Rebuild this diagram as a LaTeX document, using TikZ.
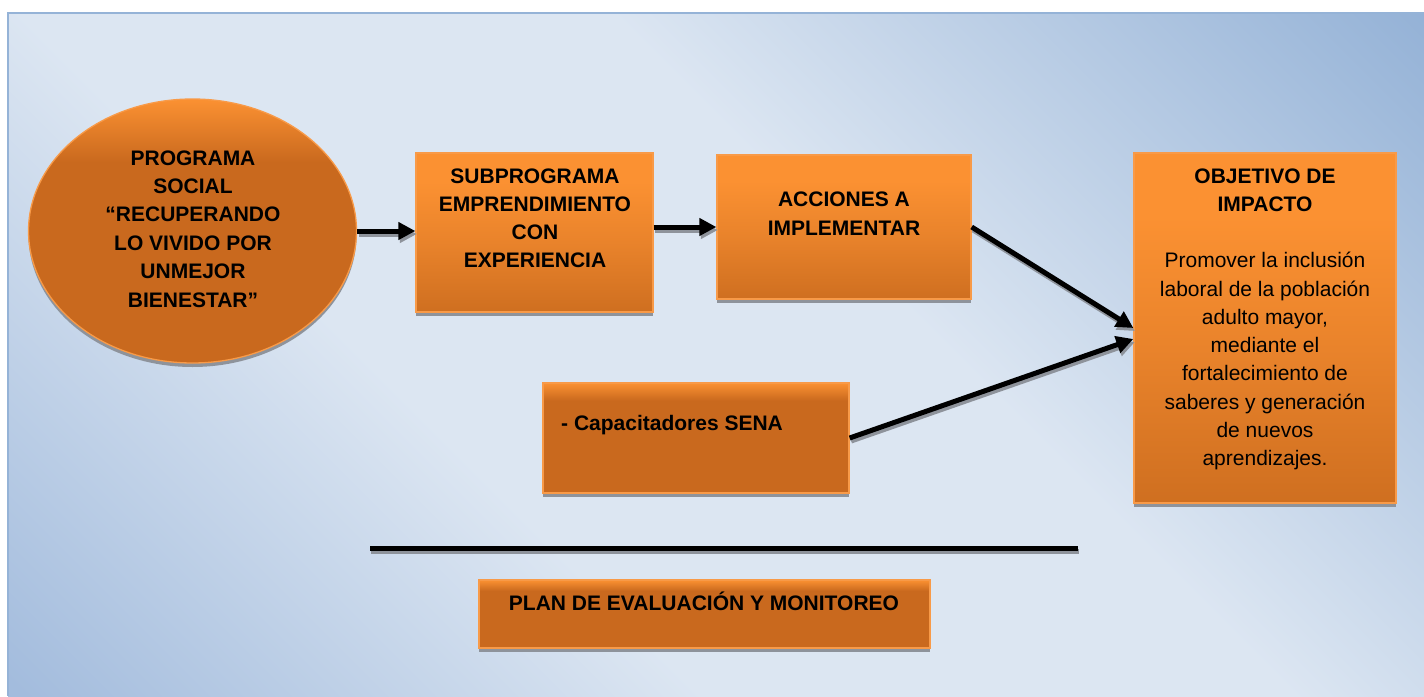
\documentclass[tikz,border=0pt]{standalone}
\usepackage{fontspec}
\setmainfont{Liberation Sans}
\usetikzlibrary{shapes.geometric,arrows.meta,shadows,calc}
\definecolor{bgdk}{HTML}{93B1D6}
\definecolor{bgdk2}{HTML}{A3BCDD}
\definecolor{bglt}{HTML}{DCE6F2}
\definecolor{obr}{HTML}{FB9132}
\definecolor{omid}{HTML}{E9832B}
\definecolor{odk}{HTML}{C9691E}
\definecolor{odk2}{HTML}{CF6F20}
\definecolor{oedge}{HTML}{F89A48}
\definecolor{shgrey}{HTML}{8E939B}
\definecolor{framec}{HTML}{95B3D7}
\pgfdeclarehorizontalshading{bgshade}{100bp}{color(0bp)=(bgdk2); color(15bp)=(bgdk2); color(38bp)=(bglt); color(58bp)=(bglt); color(86bp)=(bgdk); color(100bp)=(bgdk)}
\pgfdeclareverticalshading{otall}{100bp}{color(0bp)=(odk2); color(25bp)=(odk2); color(47bp)=(omid); color(66bp)=(obr); color(75bp)=(obr); color(100bp)=(obr)}
\pgfdeclareverticalshading{oflat}{100bp}{color(0bp)=(odk); color(25bp)=(odk); color(67bp)=(odk); color(75bp)=(obr); color(100bp)=(obr)}
\pgfdeclareverticalshading{oell}{100bp}{color(0bp)=(odk); color(25bp)=(odk); color(63bp)=(odk); color(75bp)=(obr); color(100bp)=(obr)}
\tikzset{
  obox/.style={rectangle, draw=oedge, line width=1.3pt, inner sep=0pt,
    drop shadow={shadow xshift=0pt, shadow yshift=-4pt, fill=shgrey, opacity=1}},
  txt/.style={inner sep=0pt, text=black},
  arr/.style={line width=5pt, -{Triangle[length=17pt,width=17pt]}},
  arrsh/.style={arr, draw=shgrey, transform canvas={xshift=1.5pt,yshift=-3pt}},
  rule/.style={line width=5pt},
  rulesh/.style={line width=5pt, draw=shgrey, transform canvas={xshift=1pt,yshift=-3.5pt}}
}
\begin{document}
\begin{tikzpicture}[x=1pt,y=-1pt]
\fill[white] (0,0) rectangle (1424,696);
\useasboundingbox (0,0) rectangle (1424,696);
\path[shading=bgshade, shading angle=45] (8,13) rectangle (1424,696);
\draw[framec, line width=2pt] (8,696) -- (8,13) -- (1424,13);

% shapes
\node[obox, ellipse, shading=oell, minimum width=328pt, minimum height=264pt] (ell) at (192.5,231) {};
\node[obox, shading=otall, minimum width=237pt, minimum height=159pt] (sub) at (534.5,232.5) {};
\node[obox, shading=otall, minimum width=254pt, minimum height=144pt] (acc) at (844,227) {};
\node[obox, shading=otall, minimum width=262pt, minimum height=350pt] (obj) at (1265,328) {};
\node[obox, shading=oflat, minimum width=306pt, minimum height=110pt] (sena) at (696,438) {};
\node[obox, shading=oflat, minimum width=451pt, minimum height=68pt] (plan) at (704.5,614) {};

% texts
\node[txt, anchor=base] (ellT) at (193,165) {\parbox[t]{320pt}{\centering\bfseries\fontsize{21}{28.4}\selectfont PROGRAMA\\SOCIAL\\“RECUPERANDO\\LO VIVIDO POR\\UNMEJOR\\BIENESTAR”}};
\node[txt, anchor=base] (subT) at (535,183.3) {\parbox[t]{236pt}{\centering\bfseries\fontsize{21}{28.1}\selectfont SUBPROGRAMA\\EMPRENDIMIENTO\\CON\\EXPERIENCIA}};
\node[txt, anchor=base] (accT) at (844,206.7) {\parbox[t]{250pt}{\centering\bfseries\fontsize{21}{29}\selectfont ACCIONES A\\IMPLEMENTAR}};
\node[txt, anchor=base] (objT) at (1265,183.3) {\parbox[t]{258pt}{\centering\bfseries\fontsize{21}{28.4}\selectfont OBJETIVO DE\\IMPACTO}};
\node[txt, anchor=base] (objB) at (1265,267.7) {\parbox[t]{258pt}{\centering\fontsize{21}{28.3}\selectfont Promover la inclusión\\laboral de la población\\adulto mayor,\\mediante el\\fortalecimiento de\\saberes y generación\\de nuevos\\aprendizajes.}};
\node[txt, anchor=base west, font=\bfseries\fontsize{21}{25}\selectfont] (senaT) at (561,430.7) {- Capacitadores SENA};
\node[txt, anchor=base, font=\bfseries\fontsize{21}{25}\selectfont] (planT) at (704,610.7) {PLAN DE EVALUACIÓN Y MONITOREO};

% connector shadows
\draw[arrsh] (ell.east) -- (ell.east -| sub.west);
\draw[arrsh] (acc.west -| sub.east) -- (acc.west);
\draw[arrsh] (acc.east) -- (obj.west);
\draw[arrsh] (sena.east) -- ([yshift=-11pt]obj.west);
% connectors
\draw[arr] (ell.east) -- (ell.east -| sub.west);
\draw[arr] (acc.west -| sub.east) -- (acc.west);
\draw[arr] (acc.east) -- (obj.west);
\draw[arr] (sena.east) -- ([yshift=-11pt]obj.west);

% separator rule
\coordinate (lineL) at (370,548);
\coordinate (lineR) at (1078,548);
\draw[rulesh] (lineL) -- (lineR);
\draw[rule] (lineL) -- (lineR);
\end{tikzpicture}
\end{document}
